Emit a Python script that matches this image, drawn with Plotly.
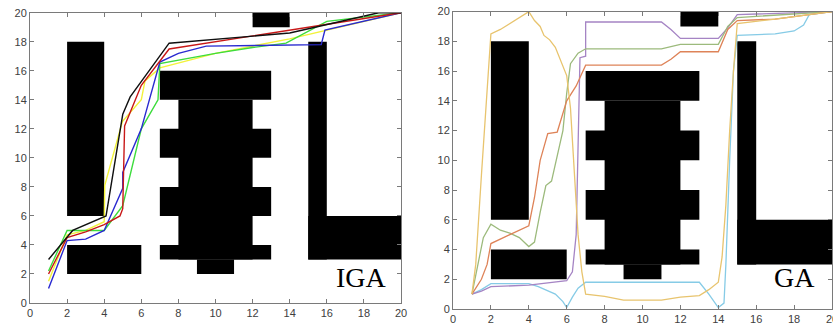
import plotly.graph_objects as go

# ---------------- data ----------------
# obstacles as (x0, x1, y0, y1)
obstacles = [
    (2, 4, 6, 18),
    (2, 6, 2, 4),
    (12, 14, 19, 20),
    (7, 13, 14, 16),
    (8, 12, 3, 14),
    (7, 13, 10, 12),
    (7, 13, 6, 8),
    (7, 13, 3, 4),
    (9, 11, 2, 3),
    (15, 16, 3, 18),
    (15, 20, 3, 6),
]

# IGA paths
iga_black_x = [1, 2.3, 4.1, 5.0, 5.4, 7.5, 14, 18.8, 20]
iga_black_y = [3, 5.0, 6.0, 13.0, 14.2, 17.9, 18.6, 20, 20]
iga_red_x = [1, 2, 3, 4, 4.85, 5.0, 5.1, 6.0, 7.5, 14, 20]
iga_red_y = [2, 4.5, 4.9, 5.4, 6.0, 6.5, 12.2, 15.0, 17.5, 18.8, 20]
iga_blue_x = [1, 2, 3, 4, 5.0, 5.0, 6.0, 7.0, 8, 9.5, 15.7, 15.9, 20]
iga_blue_y = [1, 4.3, 4.4, 5.0, 7.9, 9.0, 12.0, 16.6, 17.2, 17.7, 17.8, 18.8, 20]
iga_yellow_x = [1, 2, 3, 4, 4.03, 4.98, 6.0, 6.2, 7.0, 10, 14, 20]
iga_yellow_y = [1.5, 4.7, 5.0, 5.6, 8.1, 12.5, 14.0, 15.3, 16.2, 17.2, 18.2, 20]
iga_green_x = [1, 2, 4, 5.0, 6.0, 6.9, 7.0, 10, 12, 13.8, 16, 18, 20]
iga_green_y = [2.2, 5.0, 5.0, 6.7, 12.0, 14.0, 16.5, 17.2, 17.6, 17.9, 19.4, 19.7, 20]

# GA paths
ga_yellow_x = [1, 1.2, 1.5, 1.8, 2.0, 2.5, 3.0, 3.5, 4.0, 4.3, 4.6, 4.8, 5.1, 5.4, 5.7, 6.0, 6.2, 6.4, 6.6, 6.8,
               7.0, 8.0, 9.0, 11.0, 12.0, 13.0, 13.5, 14.0, 14.2, 14.4, 14.6, 14.8, 15.0, 17, 20]
ga_yellow_y = [1, 3.0, 9.0, 14.5, 18.5, 18.8, 19.2, 19.6, 20.0, 19.4, 19.0, 18.4, 18.1, 17.6, 16.6, 15.7, 13.5, 9.5, 5.0, 2.5,
               1.0, 0.85, 0.6, 0.6, 0.8, 0.9, 1.3, 1.8, 3.5, 7.0, 12.0, 16.0, 19.2, 19.5, 20]
ga_cyan_x = [1, 1.5, 2.0, 4.0, 4.5, 5.0, 5.4, 5.8, 6.0, 6.3, 6.6, 7.0, 13.0, 13.5, 14.0, 14.3, 14.4, 14.6, 14.8, 15.0,
             17.0, 18.0, 18.5, 18.8, 20]
ga_cyan_y = [1, 1.3, 1.7, 1.7, 1.5, 1.2, 1.0, 0.5, 0.1, 0.8, 1.4, 1.8, 1.8, 1.0, 0.1, 0.4, 3.0, 10.0, 16.0, 18.4,
             18.5, 18.7, 19.1, 19.8, 20]
ga_purple_x = [1, 1.5, 2.0, 4.0, 6.0, 6.3, 6.5, 6.6, 6.7, 7.0, 7.0, 11.0, 11.5, 12.0, 14.0, 14.5, 15.0, 20]
ga_purple_y = [1, 1.2, 1.5, 1.6, 1.9, 2.5, 5.0, 10.0, 16.9, 17.0, 19.3, 19.3, 18.8, 18.2, 18.2, 18.9, 19.8, 20]
ga_green_x = [1, 1.3, 1.6, 2.0, 2.5, 3.0, 3.5, 4.0, 4.3, 4.6, 4.9, 5.2, 5.5, 5.8, 6.0, 6.2, 6.6, 7.0, 11.0, 12.0,
              14.0, 14.5, 15.0, 20]
ga_green_y = [1, 2.8, 4.8, 5.7, 5.3, 5.1, 4.8, 4.2, 4.5, 6.5, 8.3, 8.6, 10.2, 12.0, 14.5, 16.5, 17.2, 17.5, 17.5, 17.8,
              17.8, 19.0, 19.6, 20]
ga_orange_x = [1, 1.5, 1.8, 2.0, 3.0, 4.0, 4.3, 4.6, 5.0, 5.5, 6.0, 6.5, 7.0, 11.0, 11.5, 12.0, 14.0, 14.5, 15.0, 17.0, 20]
ga_orange_y = [1, 2.0, 3.0, 4.4, 5.0, 5.6, 7.5, 10.0, 11.8, 11.9, 14.0, 15.0, 16.4, 16.4, 16.8, 17.3, 17.3, 18.8, 19.4, 19.5, 20]

tick_vals = [0, 2, 4, 6, 8, 10, 12, 14, 16, 18, 20]
tick_text = [str(v) for v in tick_vals]

W, H = 833, 329

fig = go.Figure()

def add_obstacles(xa, ya):
    for (x0, x1, y0, y1) in obstacles:
        fig.add_trace(go.Scatter(x=[x0, x1, x1, x0, x0], y=[y0, y0, y1, y1, y0],
                                 fill="toself", fillcolor="black", mode="lines",
                                 line=dict(color="black", width=0), xaxis=xa, yaxis=ya,
                                 hoverinfo="skip", showlegend=False))

add_obstacles("x", "y")
add_obstacles("x2", "y2")

iga = [
    (iga_yellow_x, iga_yellow_y, "#f2f23a"),
    (iga_green_x, iga_green_y, "#3ddc3d"),
    (iga_blue_x, iga_blue_y, "#2a2ad0"),
    (iga_red_x, iga_red_y, "#c81818"),
    (iga_black_x, iga_black_y, "#101010"),
]
for xs, ys, c in iga:
    fig.add_trace(go.Scatter(x=xs, y=ys, mode="lines", line=dict(color=c, width=1.4),
                             xaxis="x", yaxis="y", showlegend=False))

ga = [
    (ga_cyan_x, ga_cyan_y, "#86cbe6"),
    (ga_purple_x, ga_purple_y, "#a584c4"),
    (ga_green_x, ga_green_y, "#9cba7c"),
    (ga_orange_x, ga_orange_y, "#de8358"),
    (ga_yellow_x, ga_yellow_y, "#e8c46e"),
]
for xs, ys, c in ga:
    fig.add_trace(go.Scatter(x=xs, y=ys, mode="lines", line=dict(color=c, width=1.3),
                             xaxis="x2", yaxis="y2", showlegend=False))

axis_common = dict(showline=True, mirror="ticks", linecolor="#7a7a7a", linewidth=1,
                   ticks="inside", ticklen=4, tickcolor="#7a7a7a", showgrid=False, zeroline=False,
                   tickvals=tick_vals, ticktext=tick_text, automargin=False,
                   tickfont=dict(family="Liberation Sans, Arial", size=11, color="#404040"),
                   range=[0, 20], fixedrange=True)

fig.update_layout(
    template="none",
    width=W, height=H,
    margin=dict(l=0, r=0, t=0, b=0, pad=0, autoexpand=False),
    paper_bgcolor="white", plot_bgcolor="white",
    xaxis=dict(domain=[30 / W, 401 / W], anchor="y", **axis_common),
    yaxis=dict(domain=[(H - 303) / H, (H - 12.7) / H], anchor="x", **axis_common),
    xaxis2=dict(domain=[453 / W, 832 / W], anchor="y2", ticklabeloverflow="allow", **axis_common),
    yaxis2=dict(domain=[(H - 309) / H, (H - 11.6) / H], anchor="x2", **axis_common),
    annotations=[
        dict(x=17.85, y=1.76, xref="x", yref="y", text="IGA", showarrow=False,
             font=dict(family="Liberation Serif, Times New Roman", size=28, color="black")),
        dict(x=18.0, y=2.09, xref="x2", yref="y2", text="GA", showarrow=False,
             font=dict(family="Liberation Serif, Times New Roman", size=28, color="black")),
    ],
)

fig.write_html("out.html", config={"displayModeBar": False},
               post_script="document.body.style.margin='0';document.body.style.overflow='hidden';")
